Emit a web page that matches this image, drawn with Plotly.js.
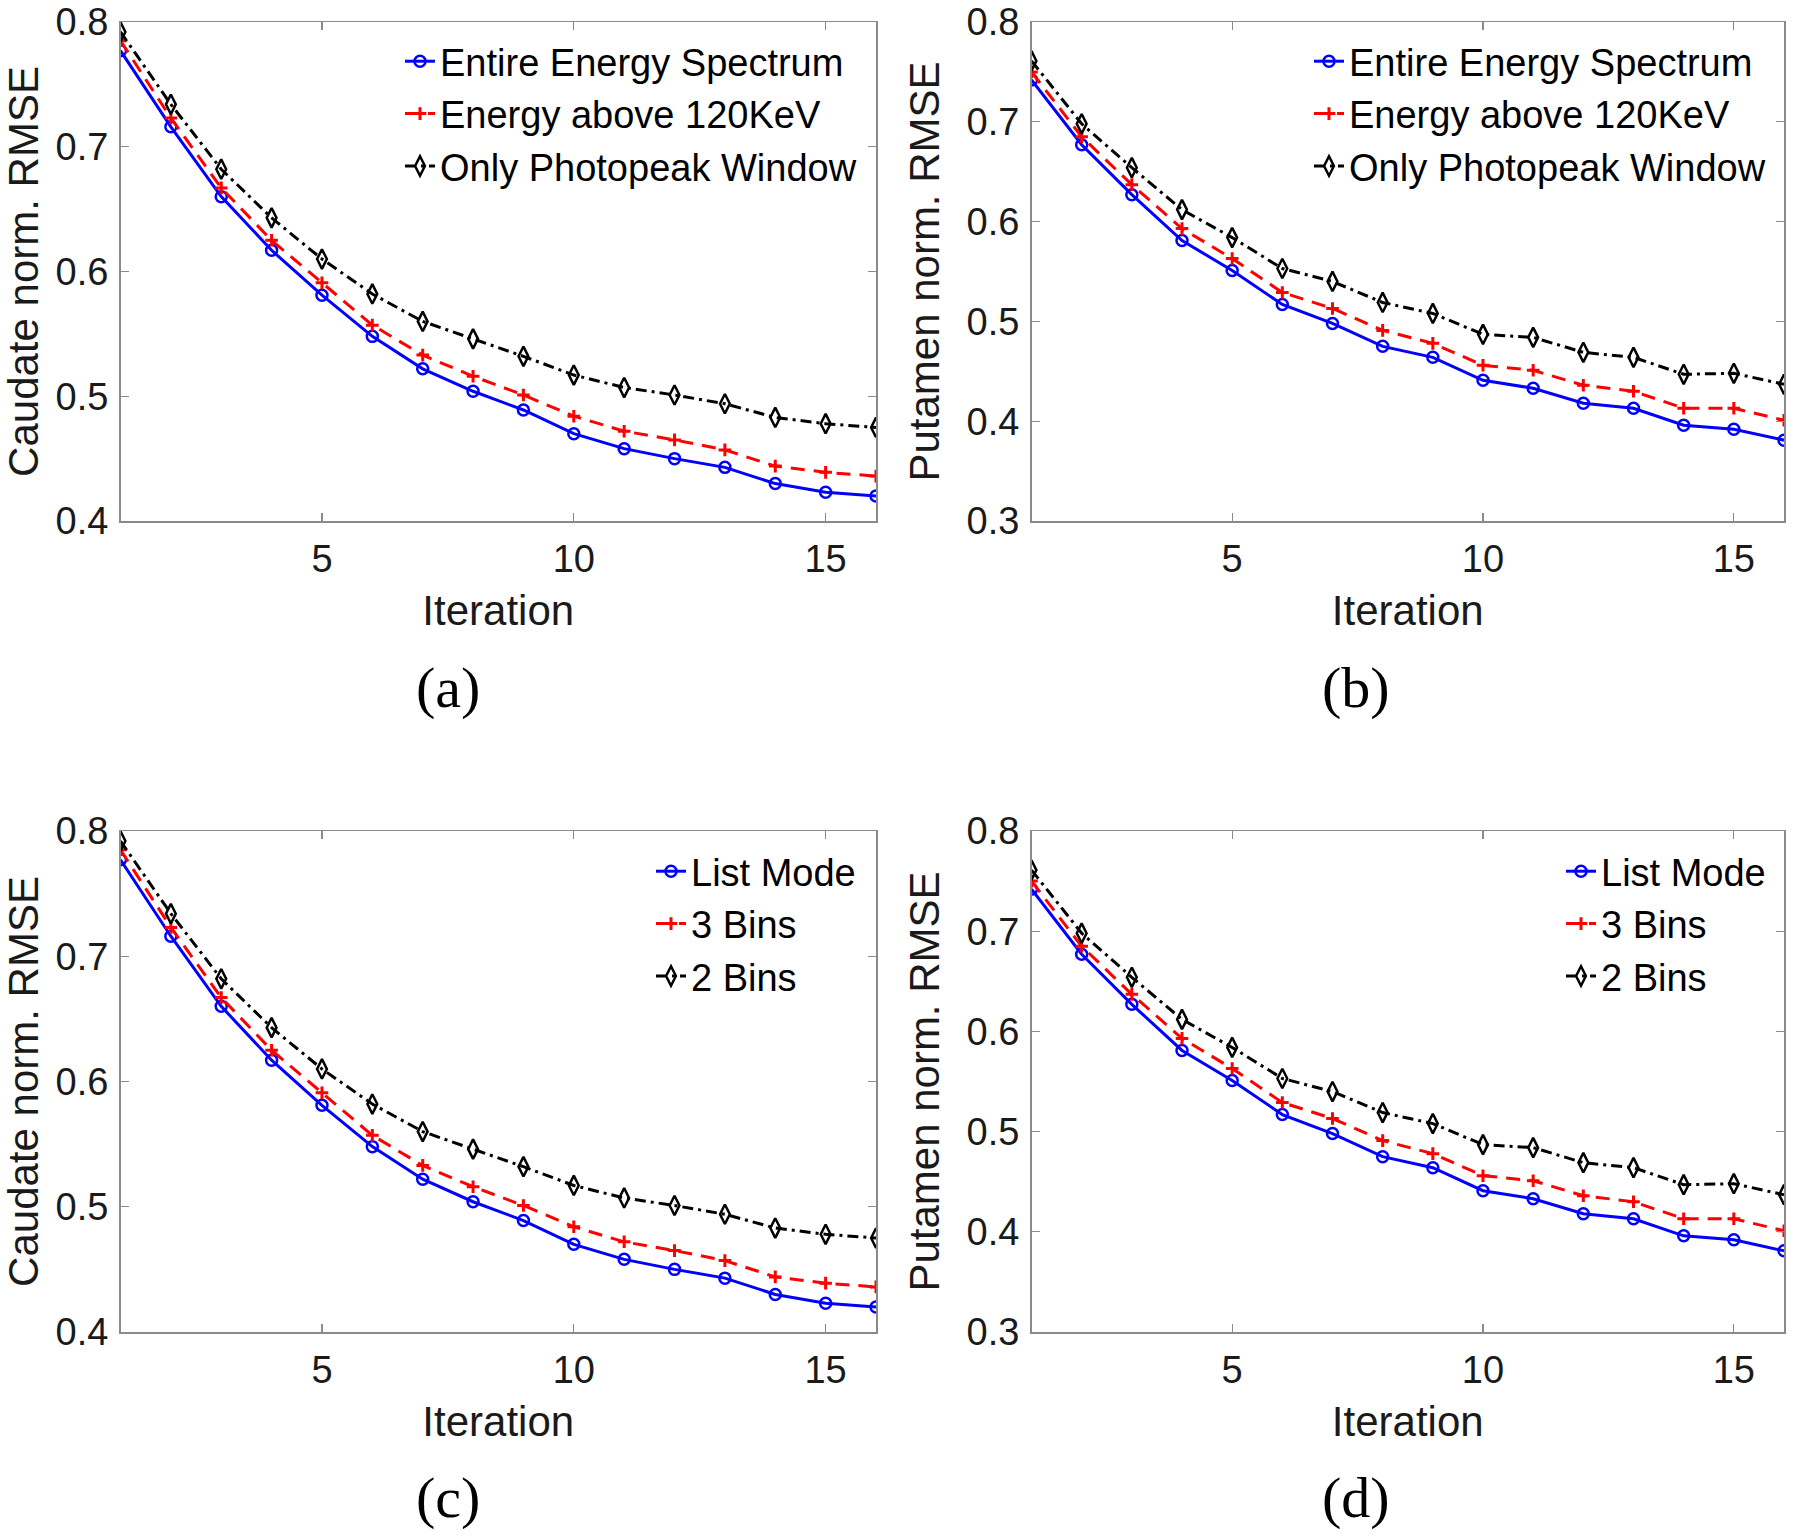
<!DOCTYPE html>
<html>
<head>
<meta charset="utf-8">
<script src="https://cdn.plot.ly/plotly-3.0.1.min.js"></script>
<style>html,body{margin:0;padding:0;background:#ffffff;}</style>
</head>
<body>
<div id="chart" style="width:1800px;height:1540px;"></div>
<script>
// ---------- data ----------
const iterations = [1, 2, 3, 4, 5, 6, 7, 8, 9, 10, 11, 12, 13, 14, 15, 16];
const xTickVals = [5, 10, 15];

// (a) Caudate, energy windows
const caudateEntire    = [0.777, 0.716, 0.660, 0.617, 0.581, 0.548, 0.522, 0.504, 0.489, 0.470, 0.458, 0.450, 0.443, 0.430, 0.423, 0.420];
const caudateAbove120  = [0.785, 0.723, 0.667, 0.625, 0.591, 0.557, 0.533, 0.516, 0.501, 0.484, 0.472, 0.465, 0.457, 0.444, 0.439, 0.436];
const caudatePhotopeak = [0.792, 0.734, 0.682, 0.643, 0.610, 0.582, 0.560, 0.546, 0.532, 0.517, 0.507, 0.501, 0.494, 0.483, 0.478, 0.475];

// (b) Putamen, energy windows
const putamenEntire    = [0.742, 0.677, 0.627, 0.581, 0.551, 0.517, 0.498, 0.475, 0.464, 0.441, 0.433, 0.418, 0.413, 0.396, 0.392, 0.381];
const putamenAbove120  = [0.750, 0.685, 0.637, 0.593, 0.563, 0.529, 0.513, 0.491, 0.478, 0.456, 0.451, 0.436, 0.430, 0.413, 0.413, 0.401];
const putamenPhotopeak = [0.761, 0.698, 0.654, 0.612, 0.584, 0.553, 0.540, 0.519, 0.508, 0.487, 0.484, 0.469, 0.464, 0.447, 0.448, 0.437];

// (c) Caudate, binning
const caudateListMode = [0.777, 0.716, 0.660, 0.617, 0.581, 0.548, 0.522, 0.504, 0.489, 0.470, 0.458, 0.450, 0.443, 0.430, 0.423, 0.420];
const caudate3Bins    = [0.785, 0.723, 0.667, 0.625, 0.591, 0.557, 0.533, 0.516, 0.501, 0.484, 0.472, 0.465, 0.457, 0.444, 0.439, 0.436];
const caudate2Bins    = [0.792, 0.734, 0.682, 0.643, 0.610, 0.582, 0.560, 0.546, 0.532, 0.517, 0.507, 0.501, 0.494, 0.483, 0.478, 0.475];

// (d) Putamen, binning
const putamenListMode = [0.742, 0.677, 0.627, 0.581, 0.551, 0.517, 0.498, 0.475, 0.464, 0.441, 0.433, 0.418, 0.413, 0.396, 0.392, 0.381];
const putamen3Bins    = [0.750, 0.685, 0.637, 0.593, 0.563, 0.529, 0.513, 0.491, 0.478, 0.456, 0.451, 0.436, 0.430, 0.413, 0.413, 0.401];
const putamen2Bins    = [0.761, 0.698, 0.654, 0.612, 0.584, 0.553, 0.540, 0.519, 0.508, 0.487, 0.484, 0.469, 0.464, 0.447, 0.448, 0.437];

const energyNames = ['Entire Energy Spectrum', 'Energy above 120KeV', 'Only Photopeak Window'];
const binNames = ['List Mode', '3 Bins', '2 Bins'];
const yTitles = ['Caudate norm. RMSE', 'Putamen norm. RMSE', 'Caudate norm. RMSE', 'Putamen norm. RMSE'];
const xTitle = 'Iteration';
const captions = ['(a)', '(b)', '(c)', '(d)'];

// ---------- styles ----------
const sans = 'Liberation Sans, Arial, sans-serif';
const serif = 'Liberation Serif, Times New Roman, serif';

const seriesStyles = [
  {line: {color: '#0000ff', width: 3, dash: 'solid'},
   marker: {symbol: 'circle-open', size: 11, color: '#0000ff', line: {width: 2.5, color: '#0000ff'}}},
  {line: {color: '#ff0000', width: 3, dash: '14px,9px'},
   marker: {symbol: 'cross-thin-open', size: 9, color: '#ff0000', line: {width: 3, color: '#ff0000'}}},
  {line: {color: '#000000', width: 3, dash: '11px,5px,3px,5px'},
   marker: {symbol: 'diamond-tall-open', size: 14, color: '#000000', line: {width: 2.5, color: '#000000'}}}
];

const panels = [
  {series: [caudateEntire, caudateAbove120, caudatePhotopeak], names: energyNames},
  {series: [putamenEntire, putamenAbove120, putamenPhotopeak], names: energyNames},
  {series: [caudateListMode, caudate3Bins, caudate2Bins], names: binNames},
  {series: [putamenListMode, putamen3Bins, putamen2Bins], names: binNames}
];

const W = 1800, H = 1540;
const xDomains = [[120.5 / W, 876 / W], [1031.5 / W, 1784 / W], [120.5 / W, 876 / W], [1031.5 / W, 1784 / W]];
const yDomains = [[1 - 521 / H, 1 - 22 / H], [1 - 521 / H, 1 - 22 / H], [1 - 1332 / H, 1 - 831 / H], [1 - 1332 / H, 1 - 831 / H]];
const yRanges = [[0.4, 0.8], [0.3, 0.8], [0.4, 0.8], [0.3, 0.8]];
const legendPos = [[400 / W, 1 - 30 / H], [1309 / W, 1 - 30 / H], [651 / W, 1 - 840 / H], [1561 / W, 1 - 840 / H]];
const captionPos = [[448 / W, 1 - 687 / H], [1356 / W, 1 - 687 / H], [448 / W, 1 - 1497 / H], [1356 / W, 1 - 1497 / H]];

const traces = [];
const layout = {
  width: W, height: H,
  margin: {l: 0, r: 0, t: 0, b: 0},
  paper_bgcolor: '#ffffff', plot_bgcolor: '#ffffff',
  showlegend: true,
  annotations: []
};

panels.forEach((p, i) => {
  const k = i === 0 ? '' : String(i + 1);
  const legendKey = 'legend' + k;
  p.series.forEach((vals, j) => {
    traces.push({
      type: 'scatter', mode: 'lines+markers',
      x: iterations, y: vals, name: p.names[j],
      xaxis: 'x' + k, yaxis: 'y' + k,
      legend: legendKey,
      line: seriesStyles[j].line,
      marker: seriesStyles[j].marker
    });
  });
  layout['xaxis' + k] = {
    domain: xDomains[i], anchor: 'y' + k,
    range: [1, 16], tickmode: 'array', tickvals: xTickVals,
    showgrid: false, zeroline: false,
    showline: true, mirror: 'ticks', linecolor: '#8a8a8a', linewidth: 1.5,
    ticks: 'inside', ticklen: 8, tickwidth: 1.2, tickcolor: '#8a8a8a',
    ticklabelstandoff: 4,
    tickfont: {family: sans, size: 38, color: '#1a1a1a'},
    title: {text: xTitle, font: {family: sans, size: 42, color: '#1a1a1a'}, standoff: 16}
  };
  layout['yaxis' + k] = {
    domain: yDomains[i], anchor: 'x' + k,
    range: yRanges[i], dtick: 0.1, tick0: 0, tickformat: '.1f',
    showgrid: false, zeroline: false,
    showline: true, mirror: 'ticks', linecolor: '#8a8a8a', linewidth: 1.5,
    ticks: 'inside', ticklen: 8, tickwidth: 1.2, tickcolor: '#8a8a8a',
    ticklabelstandoff: 3,
    tickfont: {family: sans, size: 38, color: '#1a1a1a'},
    title: {text: yTitles[i], font: {family: sans, size: 42, color: '#1a1a1a'}, standoff: 14}
  };
  layout[legendKey] = {
    x: legendPos[i][0], y: legendPos[i][1], xanchor: 'left', yanchor: 'top',
    xref: 'paper', yref: 'paper',
    bgcolor: 'rgba(255,255,255,0)', borderwidth: 0,
    font: {family: sans, size: 38, color: '#000000'},
    tracegroupgap: 0
  };
  layout.annotations.push({
    text: captions[i], xref: 'paper', yref: 'paper',
    x: captionPos[i][0], y: captionPos[i][1], xanchor: 'center', yanchor: 'middle',
    showarrow: false, font: {family: serif, size: 58, color: '#000000'}
  });
});

Plotly.newPlot('chart', traces, layout, {displayModeBar: false, staticPlot: true});
</script>
</body>
</html>
